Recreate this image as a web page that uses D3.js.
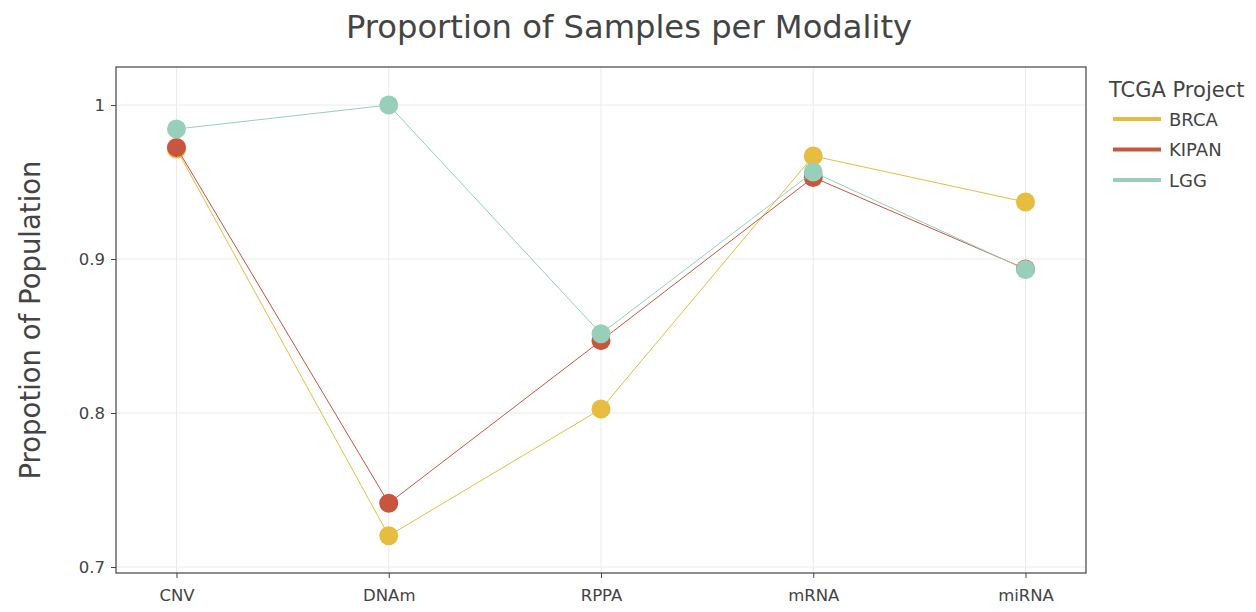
<!DOCTYPE html>
<html>
<head>
<meta charset="utf-8">
<script src="https://cdn.jsdelivr.net/npm/d3@7"></script>
<style>
  body { margin: 0; background: #fff; }
  text { font-family: "DejaVu Sans", Verdana, sans-serif; }
</style>
</head>
<body>
<div id="chart"></div>
<script>
// modalities on the x axis
const modalities = ["CNV", "DNAm", "RPPA", "mRNA", "miRNA"];
const projects = ["BRCA", "KIPAN", "LGG"];
const colors = ["#e6bd3f", "#c8563f", "#98cfba"];

const brca = [0.9714, 0.7203, 0.8026, 0.9669, 0.9370];
const kipan = [0.9725, 0.7414, 0.8470, 0.9530, 0.8936];
const lgg = [0.9844, 1.0000, 0.8515, 0.9565, 0.8932];

const yTicks = [0.7, 0.8, 0.9, 1];

const W = 1256, H = 612;
const margin = {top: 67, right: 170, bottom: 39, left: 116};
const width = W - margin.left - margin.right,
      height = H - margin.top - margin.bottom;

const svg = d3.select("#chart").append("svg")
    .attr("width", W).attr("height", H);

const g = svg.append("g")
    .attr("transform", "translate(" + margin.left + "," + margin.top + ")");

const x = d3.scalePoint().domain(modalities).range([0, width]).padding(0.285);
const y = d3.scaleLinear().domain([0.6961, 1.0247]).range([height, 0]);

// grid
g.append("g").selectAll("line").data(yTicks).join("line")
    .attr("x1", 0).attr("x2", width)
    .attr("y1", d => y(d)).attr("y2", d => y(d))
    .attr("stroke", "#ebebeb").attr("stroke-width", 1);
g.append("g").selectAll("line").data(modalities).join("line")
    .attr("x1", d => x(d)).attr("x2", d => x(d))
    .attr("y1", 0).attr("y2", height)
    .attr("stroke", "#ebebeb").attr("stroke-width", 1);

// axes
const xAxis = g.append("g")
    .attr("transform", "translate(0," + height + ")")
    .call(d3.axisBottom(x).tickSize(5).tickSizeOuter(0).tickPadding(11));
const yAxis = g.append("g")
    .call(d3.axisLeft(y).tickValues(yTicks).tickFormat(d3.format("~g")).tickSize(5).tickSizeOuter(0).tickPadding(6));
[xAxis, yAxis].forEach(a => {
    a.select(".domain").remove();
    a.selectAll("line").attr("stroke", "#444");
    a.selectAll("text").attr("fill", "#444").style("font-size", "16.5px");
});

// frame
g.append("rect")
    .attr("width", width).attr("height", height)
    .attr("fill", "none").attr("stroke", "#444").attr("stroke-width", 1.2);

// series
const series = [brca, kipan, lgg];
const line = d3.line().x((d, i) => x(modalities[i])).y(d => y(d));
series.forEach((vals, k) => {
    const sg = g.append("g");
    sg.append("path").datum(vals)
        .attr("fill", "none")
        .attr("stroke", colors[k])
        .attr("stroke-width", 1)
        .attr("d", line);
    sg.selectAll("circle").data(vals).join("circle")
        .attr("cx", (d, i) => x(modalities[i]))
        .attr("cy", d => y(d))
        .attr("r", 9.5)
        .attr("fill", colors[k]);
});

// title
svg.append("text")
    .attr("x", 629).attr("y", 38)
    .attr("text-anchor", "middle")
    .attr("fill", "#444")
    .style("font-size", "32.2px")
    .text("Proportion of Samples per Modality");

// y label
svg.append("text")
    .attr("transform", "translate(40," + (margin.top + height / 2) + ")rotate(-90)")
    .attr("text-anchor", "middle")
    .attr("fill", "#444")
    .style("font-size", "27.5px")
    .text("Propotion of Population");

// legend
const leg = svg.append("g").attr("transform", "translate(1109,0)");
leg.append("text").attr("x", 0).attr("y", 97)
    .attr("fill", "#444").style("font-size", "21px")
    .text("TCGA Project");
projects.forEach((p, i) => {
    const yy = 119 + i * 30.5;
    leg.append("line")
        .attr("x1", 4).attr("x2", 52)
        .attr("y1", yy).attr("y2", yy)
        .attr("stroke", colors[i]).attr("stroke-width", 4);
    leg.append("text").attr("x", 60).attr("y", yy + 6.5)
        .attr("fill", "#444").style("font-size", "18px")
        .text(p);
});
</script>
</body>
</html>
